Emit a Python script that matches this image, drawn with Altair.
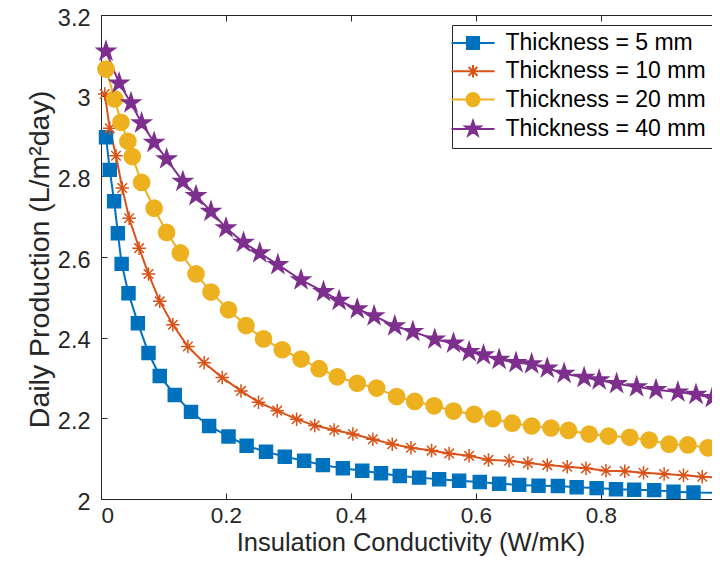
import math
import altair as alt
import pandas as pd

# ---------------- data ----------------
SERIES = ["Thickness = 5 mm", "Thickness = 10 mm", "Thickness = 20 mm", "Thickness = 40 mm"]
COLORS = ["#0072BD", "#D95319", "#EDB120", "#7E2F8E"]

K5 = [0.008, 0.014, 0.021, 0.027, 0.033, 0.044, 0.059, 0.076, 0.094, 0.118, 0.144, 0.173,
      0.204, 0.233, 0.264, 0.294, 0.325, 0.355, 0.387, 0.418, 0.448, 0.478, 0.509, 0.541,
      0.573, 0.606, 0.637, 0.669, 0.700, 0.731, 0.761, 0.793, 0.824, 0.853, 0.885, 0.916, 0.948]
P5 = [2.897, 2.816, 2.738, 2.659, 2.583, 2.510, 2.436, 2.362, 2.305, 2.258, 2.216, 2.181,
      2.155, 2.132, 2.117, 2.105, 2.095, 2.084, 2.076, 2.070, 2.064, 2.057, 2.053, 2.049,
      2.045, 2.042, 2.038, 2.035, 2.033, 2.032, 2.029, 2.027, 2.024, 2.023, 2.022, 2.018, 2.016]

K10 = [0.006, 0.014, 0.024, 0.034, 0.045, 0.061, 0.076, 0.094, 0.115, 0.139, 0.165, 0.194,
       0.224, 0.252, 0.282, 0.313, 0.342, 0.373, 0.403, 0.435, 0.466, 0.496, 0.529, 0.557,
       0.589, 0.620, 0.653, 0.683, 0.714, 0.746, 0.776, 0.808, 0.838, 0.868, 0.901, 0.932, 0.962]
P10 = [3.004, 2.919, 2.851, 2.771, 2.696, 2.622, 2.558, 2.490, 2.432, 2.378, 2.338, 2.301,
       2.268, 2.240, 2.219, 2.198, 2.182, 2.171, 2.161, 2.148, 2.136, 2.127, 2.120, 2.113,
       2.107, 2.097, 2.095, 2.089, 2.084, 2.080, 2.076, 2.070, 2.069, 2.065, 2.062, 2.059, 2.055]

K20 = [0.008, 0.022, 0.032, 0.043, 0.050, 0.065, 0.085, 0.105, 0.127, 0.152, 0.176, 0.204,
       0.232, 0.260, 0.290, 0.320, 0.349, 0.378, 0.410, 0.441, 0.473, 0.502, 0.533, 0.564,
       0.597, 0.627, 0.658, 0.689, 0.720, 0.748, 0.781, 0.812, 0.846, 0.877, 0.909, 0.939, 0.971]
P20 = [3.066, 2.992, 2.934, 2.887, 2.849, 2.785, 2.721, 2.661, 2.610, 2.558, 2.513, 2.469,
       2.430, 2.397, 2.370, 2.347, 2.323, 2.303, 2.287, 2.275, 2.254, 2.242, 2.231, 2.218,
       2.210, 2.199, 2.188, 2.181, 2.176, 2.170, 2.161, 2.156, 2.153, 2.146, 2.136, 2.134, 2.127]

K40 = [0.008, 0.029, 0.048, 0.065, 0.085, 0.105, 0.131, 0.152, 0.176, 0.200, 0.228, 0.254,
       0.283, 0.320, 0.356, 0.381, 0.410, 0.437, 0.470, 0.499, 0.534, 0.564, 0.589, 0.612,
       0.637, 0.664, 0.689, 0.714, 0.741, 0.773, 0.797, 0.825, 0.857, 0.888, 0.923, 0.952, 0.978]
P40 = [3.110, 3.031, 2.982, 2.932, 2.884, 2.843, 2.787, 2.752, 2.713, 2.672, 2.636, 2.610,
       2.581, 2.543, 2.514, 2.492, 2.471, 2.454, 2.429, 2.415, 2.396, 2.386, 2.365, 2.357,
       2.346, 2.338, 2.335, 2.324, 2.311, 2.301, 2.295, 2.286, 2.278, 2.271, 2.265, 2.259, 2.251]

# where each line leaves the visible frame (right edge of the picture)
END_K = 0.99
END_P = [2.015, 2.053, 2.123, 2.250]

X_TICKS = [0, 0.2, 0.4, 0.6, 0.8]
Y_TICKS = [2, 2.2, 2.4, 2.6, 2.8, 3, 3.2]
Y_DOMAIN = [2, 3.2]

# ---------------- tables ----------------
KS = [K5, K10, K20, K40]
PS = [P5, P10, P20, P40]
pts_rows = []
for s, ks, ps in zip(SERIES, KS, PS):
    for k, p in zip(ks, ps):
        pts_rows.append({"k": k, "p": p, "series": s})
df_pts = pd.DataFrame(pts_rows)
line_rows = list(pts_rows)
for s, pe in zip(SERIES, END_P):
    line_rows.append({"k": END_K, "p": pe, "series": s})
df_line = pd.DataFrame(line_rows)

# ---------------- marker shapes (SVG paths) ----------------
def sq(h):
    return f"M{-h},{-h}H{h}V{h}H{-h}Z"

def circ(r):
    return f"M{-r},0A{r},{r} 0 1,0 {r},0A{r},{r} 0 1,0 {-r},0Z"

def star(R, ratio=0.382):
    pts = []
    for i in range(10):
        a = math.radians(-90 + 36 * i)
        rr = R if i % 2 == 0 else R * ratio
        pts.append(f"{rr * math.cos(a):.3f},{rr * math.sin(a):.3f}")
    return "M" + "L".join(pts) + "Z"

def aster(a):
    d = a * 0.7071
    return (f"M{-a},0H{a}M0,{-a}V{a}"
            f"M{-d:.3f},{-d:.3f}L{d:.3f},{d:.3f}M{-d:.3f},{d:.3f}L{d:.3f},{-d:.3f}")

MARKERS = [sq(0.72), aster(0.75), circ(0.9), star(1.07)]
SEG = "M-2.15,0H2.15"
LEG_MARKERS = [SEG + sq(0.6), SEG + aster(0.62), SEG + circ(0.66), SEG + star(0.8)]

# ---------------- layout ----------------
W, H = 611, 484           # plot area (px)
PX_PER_UNIT = 625         # x scale: 0.2 per 125 px as in the reference
X_DOMAIN = [0, W / PX_PER_UNIT]
FONT = "Liberation Sans"
AX = "#262626"

xs = alt.Scale(domain=X_DOMAIN, nice=False, zero=False)
ys = alt.Scale(domain=Y_DOMAIN, nice=False, zero=False)

# ---------------- axes ----------------
ax_x_main = alt.Axis(values=X_TICKS, format=".1~f", orient="bottom", ticks=False, tickSize=0,
                     labelPadding=23, labelBaseline="alphabetic", labelFontSize=22.5,
                     labelFont=FONT, labelColor=AX,
                     domainColor=AX, domainWidth=1, grid=False,
                     title="Insulation Conductivity (W/mK)", titleFont=FONT, titleFontSize=25.5,
                     titleFontWeight="normal", titleColor=AX, titleY=51,
                     titleX=309.5, titleBaseline="alphabetic")
ax_y_main = alt.Axis(values=Y_TICKS, format=".1~f", orient="left", ticks=False, tickSize=0,
                     labelPadding=11, labelOffset=3, labelFontSize=23.5, labelFont=FONT,
                     labelColor=AX, domainColor=AX, domainWidth=1, grid=False,
                     title="Daily Production (L/m²day)", titleFont=FONT, titleFontSize=28.5,
                     titleFontWeight="normal", titleColor=AX, titleAngle=270,
                     titleX=-53, titleY=244, titleBaseline="alphabetic", titleAlign="center")
ax_x_ticks_bottom = alt.Axis(values=X_TICKS, orient="top", offset=-H, labels=False,
                             domain=False, ticks=True, tickSize=6, tickColor=AX,
                             tickWidth=1, grid=False, title=None)
ax_y_ticks_left = alt.Axis(values=Y_TICKS, orient="right", offset=-W, labels=False,
                           domain=False, ticks=True, tickSize=6, tickColor=AX,
                           tickWidth=1, grid=False, title=None)
ax_x_top = alt.Axis(values=X_TICKS, orient="bottom", offset=-H, labels=False,
                    domain=True, domainColor=AX, domainWidth=1, ticks=True, tickSize=6,
                    tickColor=AX, tickWidth=1, grid=False, title=None)

# ---------------- layers ----------------
lines = alt.Chart(df_line).mark_line(strokeWidth=2, clip=True).encode(
    x=alt.X("k:Q", scale=xs, axis=ax_x_main),
    y=alt.Y("p:Q", scale=ys, axis=ax_y_main),
    color=alt.Color("series:N", scale=alt.Scale(domain=SERIES, range=COLORS), legend=None),
    order=alt.Order("k:Q"),
)

points = alt.Chart(df_pts).mark_point(filled=True, size=324, strokeWidth=1.5, opacity=1,
                                      clip=False).encode(
    x=alt.X("k:Q", scale=xs, axis=ax_x_ticks_bottom),
    y=alt.Y("p:Q", scale=ys, axis=ax_y_ticks_left),
    fill=alt.Fill("series:N", scale=alt.Scale(domain=SERIES, range=COLORS), legend=None),
    stroke=alt.Stroke("series:N", scale=alt.Scale(domain=SERIES, range=COLORS), legend=None),
    shape=alt.Shape("series:N", scale=alt.Scale(domain=SERIES, range=MARKERS), legend=None),
)

leg = alt.Legend(orient="none", legendX=351, legendY=10, title=None,
                 labelFont=FONT, labelFontSize=23, labelColor="black", labelLimit=400,
                 symbolSize=400, symbolStrokeWidth=2, strokeColor=AX, fillColor="white",
                 padding=6.5, rowPadding=4.3, labelOffset=21, symbolOffset=3,
                 cornerRadius=0, symbolOpacity=1)

legend_layer = alt.Chart(df_pts).transform_filter("false").mark_point(
    filled=True, size=400, strokeWidth=2, opacity=1).encode(
    x=alt.X("k:Q", scale=xs, axis=ax_x_top),
    y=alt.Y("p:Q", scale=ys, axis=None),
    fill=alt.Fill("series:N", scale=alt.Scale(domain=SERIES, range=COLORS), legend=leg),
    stroke=alt.Stroke("series:N", scale=alt.Scale(domain=SERIES, range=COLORS), legend=leg),
    shape=alt.Shape("series:N", scale=alt.Scale(domain=SERIES, range=LEG_MARKERS), legend=leg),
)

chart = alt.layer(lines, points, legend_layer).resolve_scale(
    fill="independent", stroke="independent", shape="independent"
).properties(
    width=W, height=H,
    autosize=alt.AutoSizeParams(type="none"),
    padding={"left": 93, "top": 7, "right": 0, "bottom": 57},
    background="white",
).configure_view(stroke=None)

chart.save("out.html", embed_options={"renderer": "svg", "actions": False})
